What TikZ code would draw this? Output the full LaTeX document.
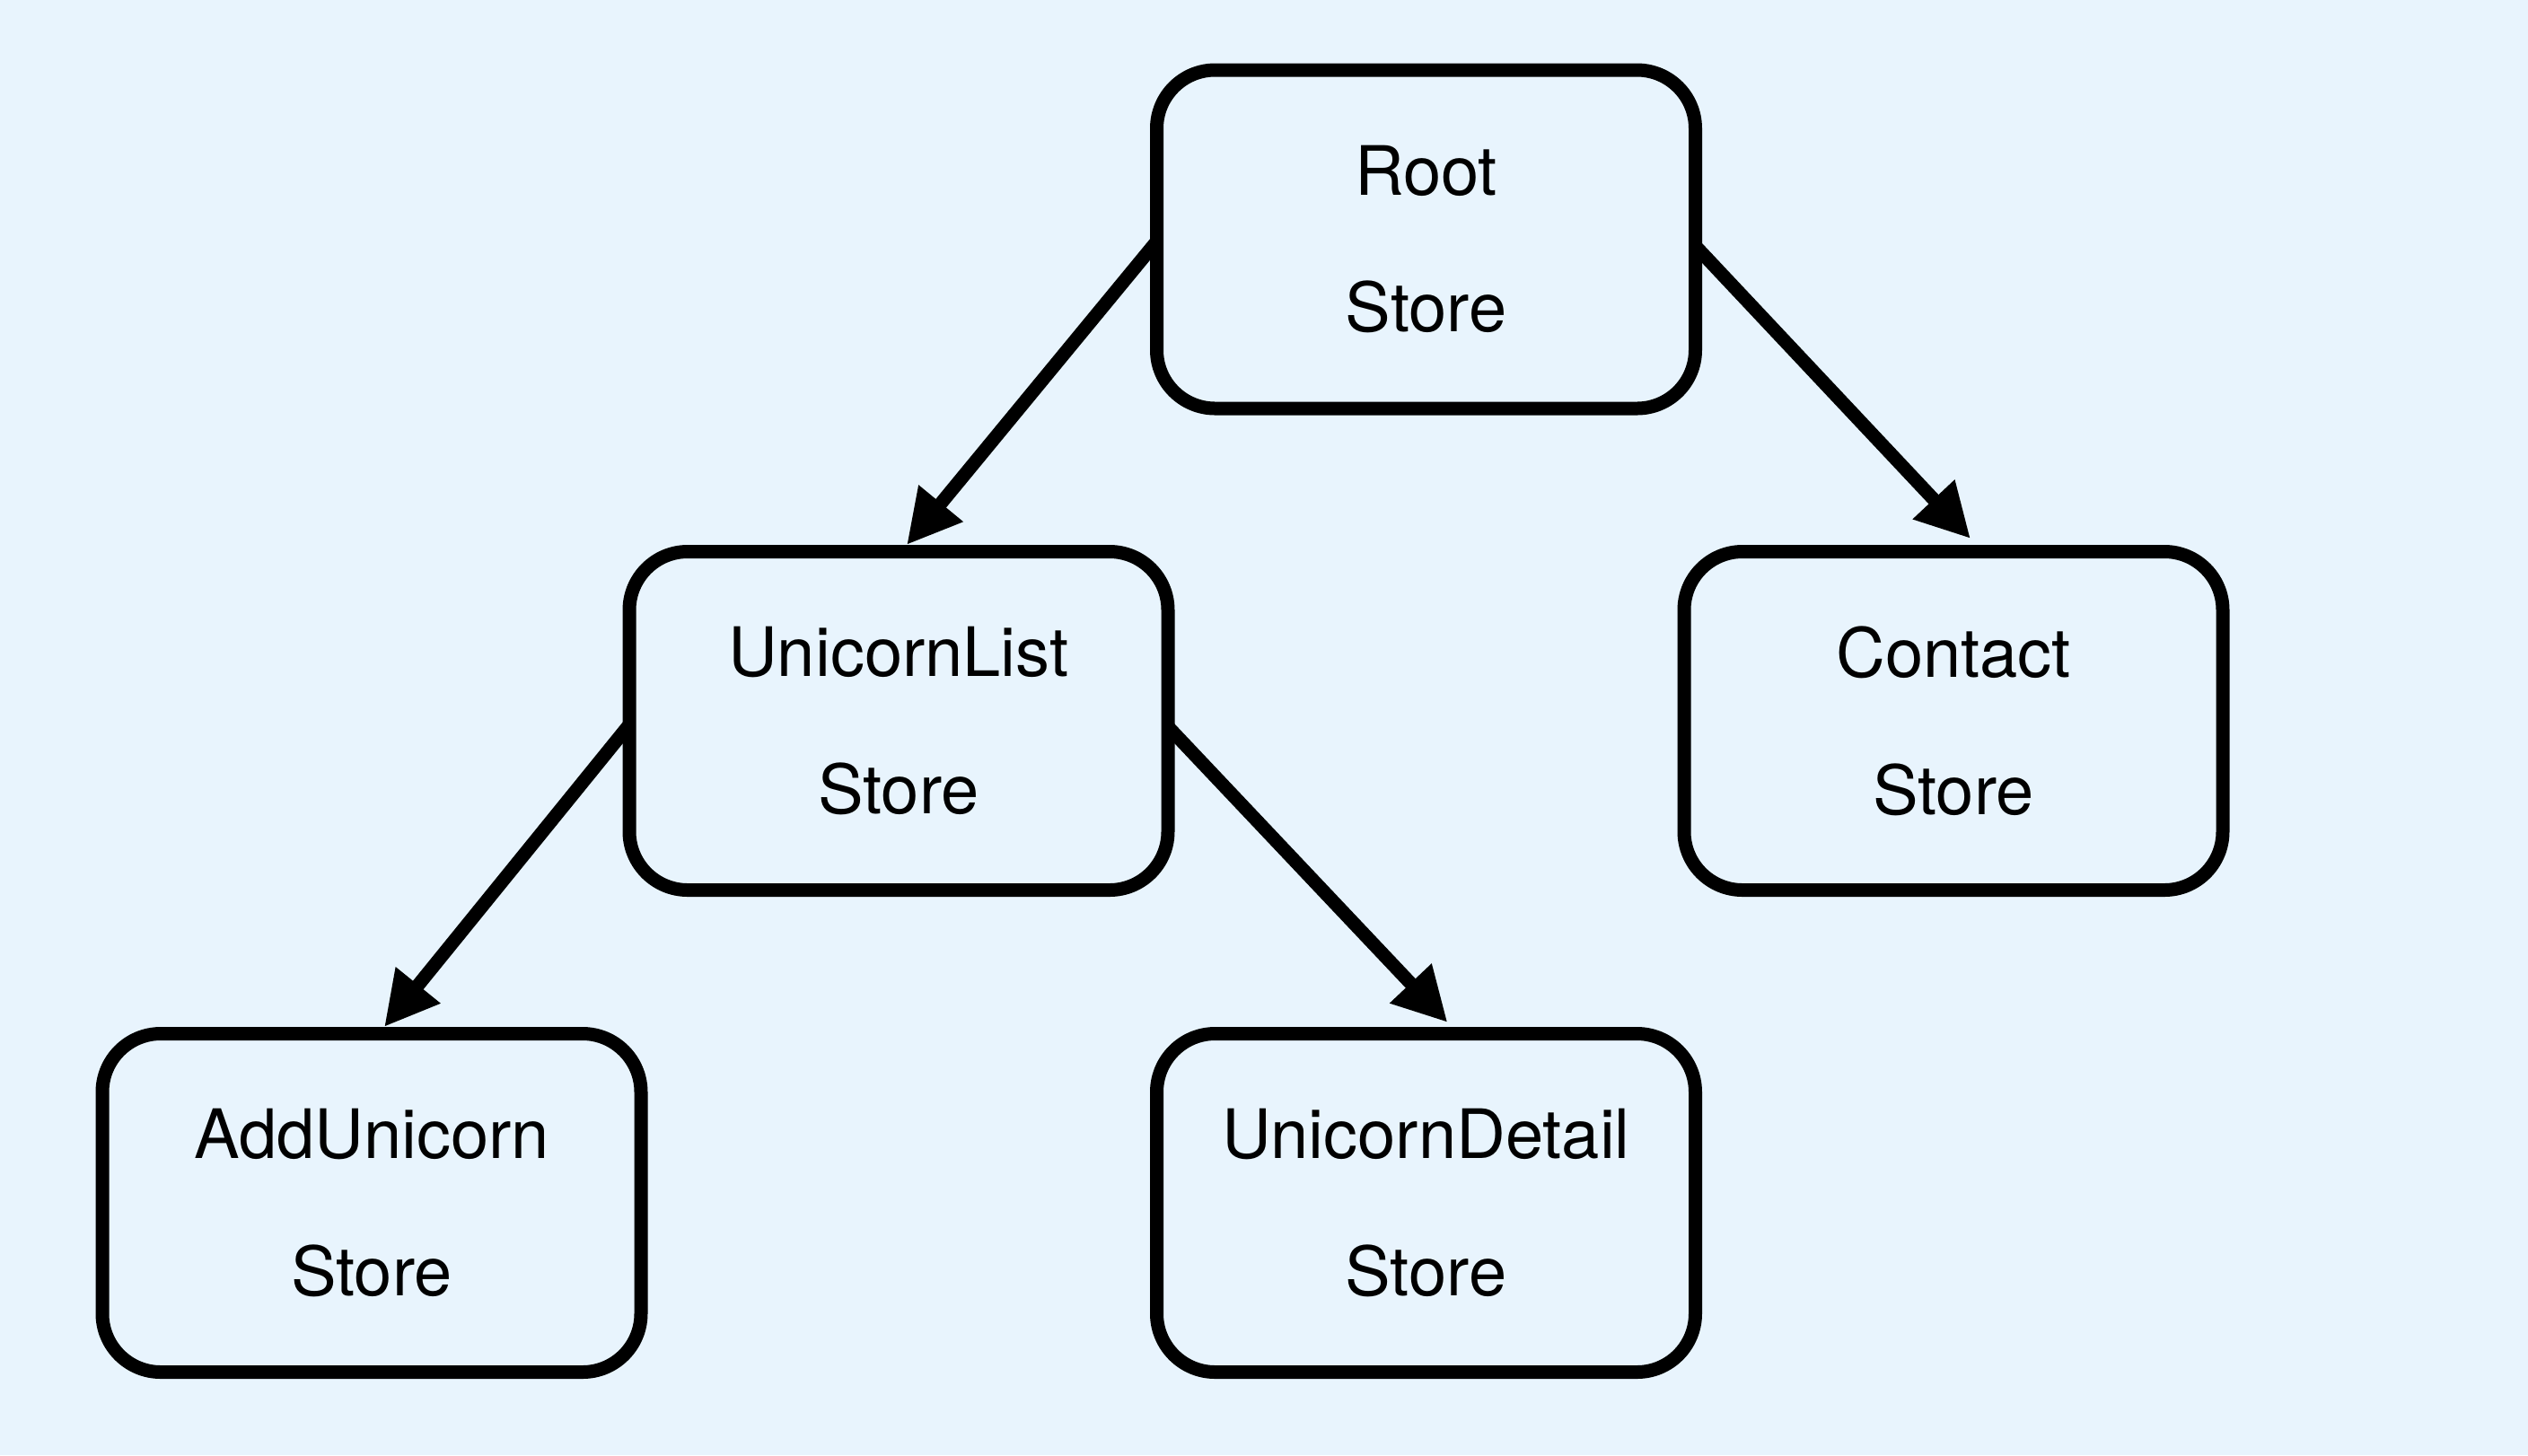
\documentclass[tikz,border=0pt]{standalone}
\usepackage{fontspec}
\setmainfont{TeX Gyre Heros}
\usetikzlibrary{arrows.meta}
\definecolor{bg}{HTML}{E8F4FD}
\tikzset{
  store/.style={draw=black, fill=bg, line width=0.15cm, rounded corners=0.65cm,
    minimum width=6.0cm, minimum height=3.77cm, inner sep=0pt, align=center,
    font=\fontsize{21.6pt}{43.5pt}\selectfont},
  link/.style={draw=black, line width=0.15cm, -{Triangle[length=0.6cm,width=0.6cm]}}
}
\begin{document}
\begin{tikzpicture}[x=1cm,y=1cm]
\fill[bg] (0,0) rectangle (28.16,-16.21);
\useasboundingbox (0,0) rectangle (28.16,-16.21);
\node[store] (root) at (15.885,-2.665) {Root\\Store};
\node[store] (ul) at (10.01,-8.03) {UnicornList\\Store};
\node[store] (ct) at (21.76,-8.03) {Contact\\Store};
\node[store] (au) at (4.14,-13.40) {AddUnicorn\\Store};
\node[store] (ud) at (15.885,-13.40) {UnicornDetail\\Store};
\draw[link] ([shift={(0.07,-0.03)}]root.west) -- ([xshift=0.09cm]ul.north);
\draw[link] ([shift={(-0.07,-0.08)}]root.east) -- ([shift={(0.19cm,0.07cm)}]ct.north);
\draw[link] ([shift={(0.07,-0.05)}]ul.west) -- ([xshift=0.14cm]au.north);
\draw[link] ([shift={(-0.07,-0.07)}]ul.east) -- ([shift={(0.24cm,0.05cm)}]ud.north);
\end{tikzpicture}
\end{document}
